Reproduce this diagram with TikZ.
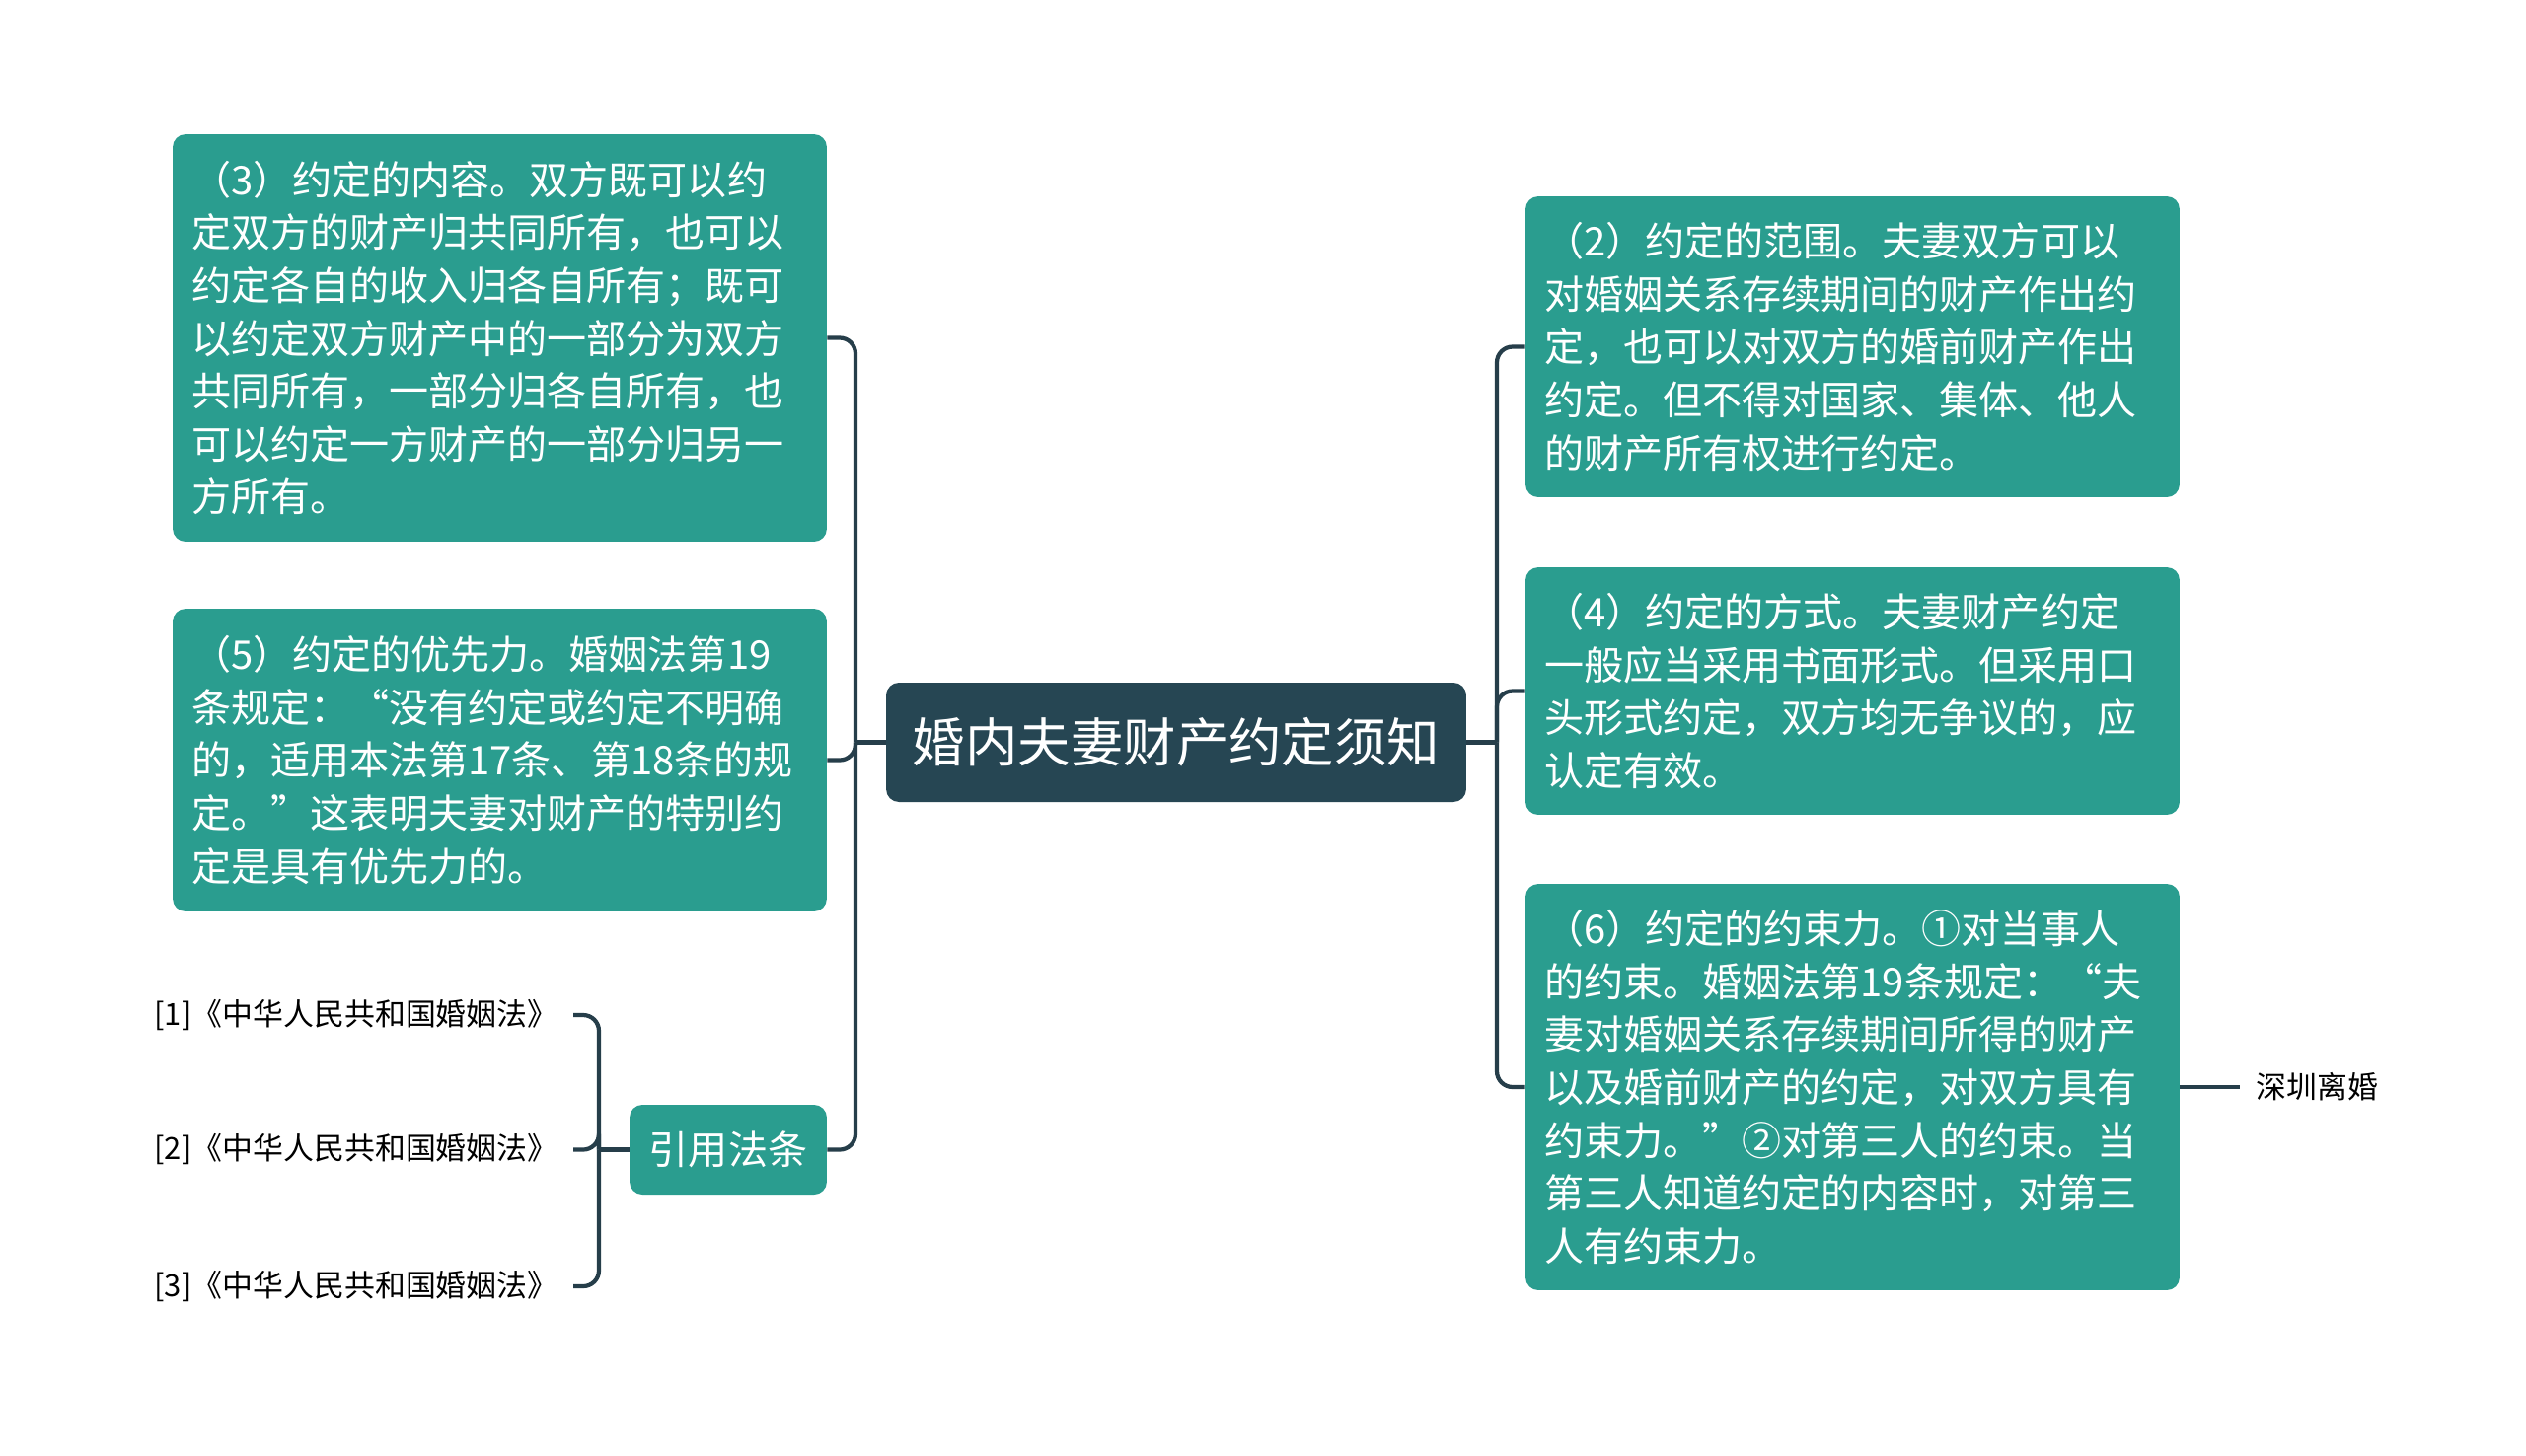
\documentclass[tikz,border=0pt]{standalone}
\usepackage{fontspec}
\setmainfont{Noto Sans CJK SC}
\usetikzlibrary{positioning}
\definecolor{rootcolor}{RGB}{38,70,83}
\definecolor{topiccolor}{RGB}{42,157,143}
\definecolor{linkcolor}{RGB}{38,62,74}

\begin{document}
\begin{tikzpicture}[x=0.02cm, y=-0.02cm,
    topic/.style={fill=topiccolor, text=white, rounded corners=0.26cm, align=left, text width=12.5cm, inner xsep=0.38cm, font=\fontsize{22.8}{30.5}\selectfont},
    root/.style={fill=rootcolor, text=white, rounded corners=0.26cm, minimum width=11.76cm, minimum height=2.42cm, font=\fontsize{30.4}{36}\selectfont},
    cite/.style={fill=topiccolor, text=white, rounded corners=0.26cm, minimum width=4cm, minimum height=1.82cm, font=\fontsize{22.8}{28}\selectfont},
    leaf/.style={text=black, inner xsep=0.3cm, font=\fontsize{17.6}{22}\selectfont},
    link/.style={draw=linkcolor, line width=2.4pt, rounded corners=0.32cm},
]
    \useasboundingbox (0,0) rectangle (2560,1475);

    \node[root] (root) at (1192,752.5) {婚内夫妻财产约定须知};

    % left side
    \node[topic, minimum height=8.26cm] (b3) at (506.5,342.5) {（3）约定的内容。双方既可以约\\定双方的财产归共同所有，也可以\\约定各自的收入归各自所有；既可\\以约定双方财产中的一部分为双方\\共同所有，一部分归各自所有，也\\可以约定一方财产的一部分归另一\\方所有。};
    \node[topic, minimum height=6.14cm] (b5) at (506.5,770.5) {（5）约定的优先力。婚姻法第19\\条规定：“没有约定或约定不明确\\的，适用本法第17条、第18条的规\\定。”这表明夫妻对财产的特别约\\定是具有优先力的。};
    \node[cite] (cite) at (738,1165.5) {引用法条};
    \node[leaf, anchor=east] (r1) at (581,1029) {[1]《中华人民共和国婚姻法》};
    \node[leaf, anchor=east] (r2) at (581,1165.5) {[2]《中华人民共和国婚姻法》};
    \node[leaf, anchor=east] (r3) at (581,1304) {[3]《中华人民共和国婚姻法》};

    % right side
    \node[topic, minimum height=6.1cm] (b2) at (1877.5,351.5) {（2）约定的范围。夫妻双方可以\\对婚姻关系存续期间的财产作出约\\定，也可以对双方的婚前财产作出\\约定。但不得对国家、集体、他人\\的财产所有权进行约定。};
    \node[topic, minimum height=5.02cm] (b4) at (1877.5,700.5) {（4）约定的方式。夫妻财产约定\\一般应当采用书面形式。但采用口\\头形式约定，双方均无争议的，应\\认定有效。};
    \node[topic, minimum height=8.24cm] (b6) at (1877.5,1102) {（6）约定的约束力。①对当事人\\的约束。婚姻法第19条规定：“夫\\妻对婚姻关系存续期间所得的财产\\以及婚前财产的约定，对双方具有\\约束力。”②对第三人的约束。当\\第三人知道约定的内容时，对第三\\人有约束力。};
    \node[leaf, anchor=west, inner xsep=0.32cm] (tag) at (2270,1102) {深圳离婚};

    \coordinate (lt) at (867,752.5);
    \coordinate (rt) at (1517,752.5);
    \coordinate (ct) at (607,1165.5);

    \draw[link] (root.west) -- (lt);
    \draw[link] (lt) |- (b3.east);
    \draw[link] (lt) |- (b5.east);
    \draw[link] (lt) |- (cite.east);
    \draw[link] (root.east) -- (rt);
    \draw[link] (rt) |- (b2.west);
    \draw[link] (rt) |- (b4.west);
    \draw[link] (rt) |- (b6.west);
    \draw[link] (cite.west) -- (ct);
    \draw[link] (ct) |- (r1.east);
    \draw[link] (ct) |- (r2.east);
    \draw[link] (ct) |- (r3.east);
    \draw[link] (b6.east) -- (tag.west);
\end{tikzpicture}
\end{document}
